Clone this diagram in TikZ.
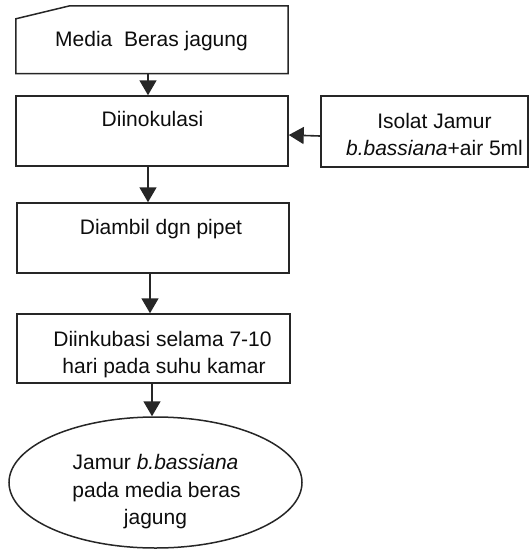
\documentclass[tikz,border=0pt]{standalone}
\usepackage{fontspec}
\setmainfont{Liberation Sans}
\usetikzlibrary{arrows.meta,shapes.geometric,calc}
\begin{document}
\begin{tikzpicture}[x=1pt,y=-1pt,
  boxline/.style={draw=black!85, line width=1.5pt},
  box/.style={boxline, rectangle, inner sep=0pt},
  lbl/.style={font=\fontsize{21}{28}\selectfont, text=black!95, inner sep=0pt, anchor=base},
  arr/.style={draw=black!85, line width=1.6pt, -{Triangle[width=17pt,length=15pt]}}]
\useasboundingbox (0,0) rectangle (529,550);

% box 1 (card shape)
\node[inner sep=0pt, minimum width=272pt, minimum height=67.5pt] (b1) at (152,39.75) {};
\draw[boxline] ($(b1.north west)+(0,13)$) -- ($(b1.north west)+(54,0)$) -- (b1.north east)
  -- (b1.south east) -- (b1.south west) -- cycle;
\node[lbl] (t1) at (151.5,46.7) {Media\ \ Beras jagung};

% box 2
\node[box, minimum width=272pt, minimum height=70pt] (b2) at (152,131) {};
\node[lbl] (t2) at (152.5,126) {Diinokulasi};

% isolat box
\node[box, minimum width=207pt, minimum height=71pt] (bi) at (424.5,131.5) {};
\node[lbl] (ti1) at (434.5,128) {Isolat Jamur};
\node[lbl] (ti2) at (434.5,155.7) {\textit{b.bassiana}+air 5ml};

% box 3
\node[box, minimum width=272pt, minimum height=70pt] (b3) at (153,238) {};
\node[lbl] (t3) at (161,234) {Diambil dgn pipet};

% box 4
\node[box, minimum width=273pt, minimum height=69pt] (b4) at (153.5,348.5) {};
\node[lbl] (t41) at (162.5,346) {Diinkubasi selama 7-10};
\node[lbl] (t42) at (164,373.5) {hari pada suhu kamar};

% ellipse
\node[boxline, ellipse, inner sep=0pt, minimum width=293pt, minimum height=131pt] (e) at (155.5,482.5) {};
\node[lbl] (te1) at (155.5,469) {Jamur \textit{b.bassiana}};
\node[lbl] (te2) at (156.5,497) {pada media beras};
\node[lbl] (te3) at (155.5,524.5) {jagung};

% connectors
\draw[arr] ([xshift=-4pt]b1.south) -- ([xshift=-4pt]b2.north);
\draw[arr] ([xshift=-4pt]b2.south) -- ([xshift=-5pt]b3.north);
\draw[arr] ([xshift=-3pt]b3.south) -- ([xshift=-3.5pt]b4.north);
\draw[arr] ([xshift=-1.5pt]b4.south) -- ([xshift=-3.5pt]e.north);
\draw[arr] ([yshift=-4.5pt]bi.west) -- ([yshift=-4pt]b2.east);
\end{tikzpicture}
\end{document}
